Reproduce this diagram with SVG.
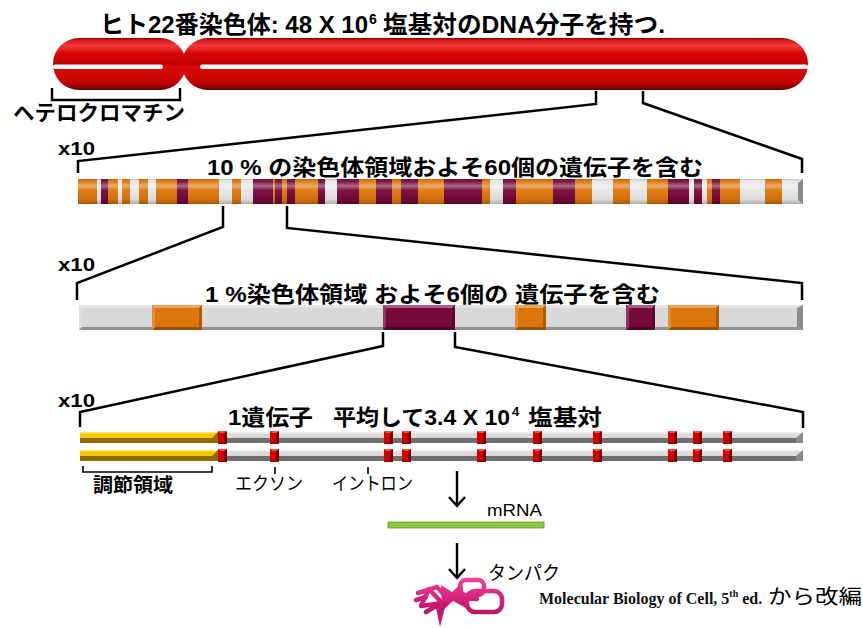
<svg xmlns="http://www.w3.org/2000/svg" xmlns:xlink="http://www.w3.org/1999/xlink" width="863" height="628" viewBox="0 0 863 628">
  <style>
    .jp { font-family: 'Liberation Sans', 'Noto Sans CJK JP', sans-serif; fill: #000; }
    .b { font-weight: bold; }
    .en { font-family: 'Liberation Sans', Arial, sans-serif; font-weight: bold; fill: #000; }
    .serif { font-family: 'Liberation Serif', 'Times New Roman', serif; font-weight: bold; fill: #111; }
    .ln { fill: none; stroke: #000; stroke-width: 2.5; stroke-linejoin: miter; }
    .tick { fill: none; stroke: #000; stroke-width: 1.6; }
    .arr { fill: none; stroke: #000; stroke-width: 2.4; }
    .or { fill: #DC760B; }
    .ma { fill: #760A3A; }
    .wh { fill: #E6E6E6; }
    .bt { fill: #fff; opacity: .35; }
    .bl { fill: #fff; opacity: .18; }
    .bb { fill: #000; opacity: .32; }
    .br { fill: #000; opacity: .22; }
    .prot { fill: none; stroke: url(#protG); stroke-width: 4.5; stroke-linejoin: round; stroke-linecap: round; }
  </style>
  <defs>
    <linearGradient id="redG" x1="0" y1="0" x2="0" y2="1">
      <stop offset="0" stop-color="#8a0000"/>
      <stop offset="0.05" stop-color="#d81818"/>
      <stop offset="0.15" stop-color="#ef3c3c"/>
      <stop offset="0.3" stop-color="#d60202"/>
      <stop offset="0.5" stop-color="#c20000"/>
      <stop offset="0.56" stop-color="#dc0c0c"/>
      <stop offset="0.85" stop-color="#c30000"/>
      <stop offset="0.95" stop-color="#880000"/>
      <stop offset="1" stop-color="#5a0000"/>
    </linearGradient>
    <linearGradient id="gloss" x1="0" y1="0" x2="0" y2="1">
      <stop offset="0" stop-color="#000" stop-opacity=".18"/>
      <stop offset="0.1" stop-color="#fff" stop-opacity=".05"/>
      <stop offset="0.28" stop-color="#fff" stop-opacity=".4"/>
      <stop offset="0.45" stop-color="#fff" stop-opacity=".05"/>
      <stop offset="0.8" stop-color="#000" stop-opacity=".04"/>
      <stop offset="1" stop-color="#000" stop-opacity=".25"/>
    </linearGradient>
    <linearGradient id="protG" gradientUnits="userSpaceOnUse" x1="0" y1="578" x2="0" y2="627">
      <stop offset="0" stop-color="#EE4398"/>
      <stop offset="0.5" stop-color="#D01C74"/>
      <stop offset="1" stop-color="#9E0E52"/>
    </linearGradient>
    <g id="exon">
      <rect x="0" y="0" width="9" height="13" fill="#D40000"/>
      <polygon points="6,2 9,0 9,13 6,11" fill="#7d0000"/>
      <polygon points="0,0 9,0 6,2 2,2" fill="#ff4a4a"/>
      <polygon points="0,13 9,13 6,11 2,11" fill="#9a0000"/>
    </g>
    <g id="strand">
      <!-- regulatory (yellow) part -->
      <rect x="80" y="0" width="138" height="6" fill="#F6C800"/>
      <rect x="80" y="0" width="138" height="1.5" fill="#FFE36A"/>
      <polygon points="80,6 212,6 218,0 218,11 80,11" fill="#8C6C00"/>
      <!-- coding region -->
      <rect x="218" y="0" width="585" height="6" fill="#D9D9D9"/>
      <rect x="218" y="0" width="585" height="1.5" fill="#EFEFEF"/>
      <rect x="218" y="6" width="585" height="5" fill="#6E6E6E"/>
      <polygon points="796,6 803,0 803,11 796,11" fill="#8A8A8A"/>
    </g>
  </defs>

  <!-- chromosome 22 -->
  <g id="chromosome">
    <rect x="53" y="38" width="133" height="52" rx="26" fill="url(#redG)"/>
    <rect x="182" y="38" width="626" height="52" rx="26" fill="url(#redG)"/>
    <rect x="53" y="64.5" width="110" height="4.5" rx="2.2" fill="#fff"/>
    <rect x="200" y="64.5" width="608" height="4.5" rx="2.2" fill="#fff"/>
  </g>

  <g id="title">
    <text class="jp b" x="100" y="33" font-size="24" textLength="268" lengthAdjust="spacingAndGlyphs">ヒト22番染色体: 48 X 10</text>
    <text class="jp b" x="369" y="24" font-size="14">6</text>
    <text class="jp b" x="383" y="33" font-size="24" textLength="282" lengthAdjust="spacingAndGlyphs">塩基対のDNA分子を持つ.</text>
  </g>

  <g id="heterochromatin">
    <path class="ln" d="M52,88 V100 H180 V88"/>
    <text class="jp b" x="13" y="120" font-size="21" textLength="172" lengthAdjust="spacingAndGlyphs">ヘテロクロマチン</text>
  </g>

  <!-- 10 % region -->
  <g id="band10">
    <rect class="or" x="78" y="179" width="19" height="25"/>
    <rect class="wh" x="97" y="179" width="4" height="25"/>
    <rect class="ma" x="101" y="179" width="7" height="25"/>
    <rect class="or" x="108" y="179" width="10" height="25"/>
    <rect class="wh" x="118" y="179" width="4" height="25"/>
    <rect class="or" x="122" y="179" width="8" height="25"/>
    <rect class="wh" x="130" y="179" width="9" height="25"/>
    <rect class="or" x="139" y="179" width="9" height="25"/>
    <rect class="wh" x="148" y="179" width="8" height="25"/>
    <rect class="or" x="156" y="179" width="21" height="25"/>
    <rect class="ma" x="177" y="179" width="11" height="25"/>
    <rect class="or" x="188" y="179" width="31" height="25"/>
    <rect class="wh" x="219" y="179" width="13" height="25"/>
    <rect class="or" x="232" y="179" width="9" height="25"/>
    <rect class="wh" x="241" y="179" width="12" height="25"/>
    <rect class="ma" x="253" y="179" width="20" height="25"/>
    <rect class="or" x="273" y="179" width="2" height="25"/>
    <rect class="ma" x="275" y="179" width="7" height="25"/>
    <rect class="or" x="282" y="179" width="5" height="25"/>
    <rect class="ma" x="287" y="179" width="8" height="25"/>
    <rect class="or" x="295" y="179" width="23" height="25"/>
    <rect class="ma" x="318" y="179" width="7" height="25"/>
    <rect class="wh" x="325" y="179" width="12" height="25"/>
    <rect class="ma" x="337" y="179" width="22" height="25"/>
    <rect class="or" x="359" y="179" width="17" height="25"/>
    <rect class="ma" x="376" y="179" width="16" height="25"/>
    <rect class="or" x="392" y="179" width="9" height="25"/>
    <rect class="ma" x="401" y="179" width="17" height="25"/>
    <rect class="or" x="418" y="179" width="26" height="25"/>
    <rect class="ma" x="444" y="179" width="38" height="25"/>
    <rect class="or" x="482" y="179" width="8" height="25"/>
    <rect class="wh" x="490" y="179" width="13" height="25"/>
    <rect class="ma" x="503" y="179" width="13" height="25"/>
    <rect class="or" x="516" y="179" width="37" height="25"/>
    <rect class="ma" x="553" y="179" width="22" height="25"/>
    <rect class="or" x="575" y="179" width="17" height="25"/>
    <rect class="wh" x="592" y="179" width="21" height="25"/>
    <rect class="or" x="613" y="179" width="17" height="25"/>
    <rect class="wh" x="630" y="179" width="17" height="25"/>
    <rect class="or" x="647" y="179" width="21" height="25"/>
    <rect class="ma" x="668" y="179" width="21" height="25"/>
    <rect class="wh" x="689" y="179" width="5" height="25"/>
    <rect class="ma" x="694" y="179" width="8" height="25"/>
    <rect class="wh" x="702" y="179" width="5" height="25"/>
    <rect class="or" x="707" y="179" width="5" height="25"/>
    <rect class="ma" x="712" y="179" width="8" height="25"/>
    <rect class="or" x="720" y="179" width="20" height="25"/>
    <rect class="wh" x="740" y="179" width="25" height="25"/>
    <rect class="or" x="765" y="179" width="17" height="25"/>
    <rect class="wh" x="782" y="179" width="21" height="25"/>
    <rect x="78" y="179" width="725" height="25" fill="url(#gloss)"/>
    <polygon points="803,179 798,183 798,200 803,204" fill="#8a8a8a"/>
  </g>
  <text class="en" x="58" y="155" font-size="18" textLength="37" lengthAdjust="spacingAndGlyphs">x10</text>
  <text class="jp b" x="207" y="175" font-size="22" textLength="496" lengthAdjust="spacingAndGlyphs">10 % の染色体領域およそ60個の遺伝子を含む</text>

  <!-- 1 % region -->
  <g id="band1">
    <rect x="79" y="305" width="724" height="25" fill="#D8D8D8"/>
    <polygon class="bt" points="79,305 803,305 797,308 82,308"/>
    <polygon class="bb" points="79,330 803,330 797,327 82,327"/>
    <polygon class="bl" points="79,305 82,308 82,327 79,330"/>
    <polygon fill="#8c8c8c" points="803,305 797,308 797,327 803,330"/>

    <rect class="or" x="152" y="305" width="50" height="25"/>
    <polygon class="bt" points="152,305 202,305 199,308 155,308"/>
    <polygon class="bb" points="152,330 202,330 199,327 155,327"/>
    <polygon class="bl" points="152,305 155,308 155,327 152,330"/>
    <polygon class="br" points="202,305 199,308 199,327 202,330"/>

    <rect class="ma" x="383" y="305" width="72" height="25"/>
    <polygon class="bt" points="383,305 455,305 452,308 386,308"/>
    <polygon class="bb" points="383,330 455,330 452,327 386,327"/>
    <polygon class="bl" points="383,305 386,308 386,327 383,330"/>
    <polygon class="br" points="455,305 452,308 452,327 455,330"/>

    <rect class="or" x="515" y="305" width="31" height="25"/>
    <polygon class="bt" points="515,305 546,305 543,308 518,308"/>
    <polygon class="bb" points="515,330 546,330 543,327 518,327"/>
    <polygon class="bl" points="515,305 518,308 518,327 515,330"/>
    <polygon class="br" points="546,305 543,308 543,327 546,330"/>

    <rect class="ma" x="626" y="305" width="29" height="25"/>
    <polygon class="bt" points="626,305 655,305 652,308 629,308"/>
    <polygon class="bb" points="626,330 655,330 652,327 629,327"/>
    <polygon class="bl" points="626,305 629,308 629,327 626,330"/>
    <polygon class="br" points="655,305 652,308 652,327 655,330"/>

    <rect class="or" x="668" y="305" width="51" height="25"/>
    <polygon class="bt" points="668,305 719,305 716,308 671,308"/>
    <polygon class="bb" points="668,330 719,330 716,327 671,327"/>
    <polygon class="bl" points="668,305 671,308 671,327 668,330"/>
    <polygon class="br" points="719,305 716,308 716,327 719,330"/>
  </g>
  <text class="en" x="58" y="271" font-size="18" textLength="37" lengthAdjust="spacingAndGlyphs">x10</text>
  <text class="jp b" x="205" y="302" font-size="22" textLength="455" lengthAdjust="spacingAndGlyphs">1 %染色体領域 およそ6個の 遺伝子を含む</text>

  <!-- single gene -->
  <g id="gene">
    <use xlink:href="#strand" x="0" y="432"/>
    <use xlink:href="#strand" x="0" y="450"/>
    <use xlink:href="#exon" x="218" y="431"/>
    <use xlink:href="#exon" x="270" y="431"/>
    <use xlink:href="#exon" x="384" y="431"/>
    <use xlink:href="#exon" x="402" y="431"/>
    <use xlink:href="#exon" x="477" y="431"/>
    <use xlink:href="#exon" x="533" y="431"/>
    <use xlink:href="#exon" x="593" y="431"/>
    <use xlink:href="#exon" x="668" y="431"/>
    <use xlink:href="#exon" x="693" y="431"/>
    <use xlink:href="#exon" x="723" y="431"/>
    <use xlink:href="#exon" x="218" y="449"/>
    <use xlink:href="#exon" x="270" y="449"/>
    <use xlink:href="#exon" x="384" y="449"/>
    <use xlink:href="#exon" x="402" y="449"/>
    <use xlink:href="#exon" x="477" y="449"/>
    <use xlink:href="#exon" x="533" y="449"/>
    <use xlink:href="#exon" x="593" y="449"/>
    <use xlink:href="#exon" x="668" y="449"/>
    <use xlink:href="#exon" x="693" y="449"/>
    <use xlink:href="#exon" x="723" y="449"/>
  </g>
  <text class="en" x="58" y="407" font-size="18" textLength="37" lengthAdjust="spacingAndGlyphs">x10</text>
  <g id="gene-title">
    <text class="jp b" x="228" y="425" font-size="22" textLength="85" lengthAdjust="spacingAndGlyphs">1遺伝子</text>
    <text class="jp b" x="333" y="425" font-size="22" textLength="177" lengthAdjust="spacingAndGlyphs">平均して3.4 X 10</text>
    <text class="jp b" x="512" y="416" font-size="13">4</text>
    <text class="jp b" x="528" y="425" font-size="22" textLength="74" lengthAdjust="spacingAndGlyphs">塩基対</text>
  </g>

  <g id="regulatory">
    <path class="tick" d="M83,466 V472 H212 V466"/>
    <text class="jp b" x="93" y="492" font-size="19" textLength="80" lengthAdjust="spacingAndGlyphs">調節領域</text>
  </g>
  <g id="exon-label">
    <path class="tick" d="M275,467 V474"/>
    <text class="jp" x="235" y="490" font-size="18" textLength="68" lengthAdjust="spacingAndGlyphs">エクソン</text>
  </g>
  <g id="intron-label">
    <path class="tick" d="M368,467 V474"/>
    <text class="jp" x="332" y="490" font-size="18" textLength="81" lengthAdjust="spacingAndGlyphs">イントロン</text>
  </g>

  <!-- mRNA -->
  <g id="mrna">
    <rect x="388" y="522" width="156" height="6" fill="#8DC63F" stroke="#5E9A2A" stroke-width="0.8"/>
    <text class="jp" x="487" y="516" font-size="16" textLength="55" lengthAdjust="spacingAndGlyphs">mRNA</text>
  </g>

  <!-- protein -->
  <g id="protein">
    <path d="M441,585 L452,592 L462,583 L466,608 L453,601 L442,611 Z" fill="url(#protG)"/>
    <path class="prot" d="M418,593 L437,587 L446,597"/>
    <path class="prot" d="M421,606 L429,589 L442,603 Z"/>
    <path class="prot" d="M416,600 L426,597"/>
    <path class="prot" d="M426,612 L436,606"/>
    <path d="M435,603 L440,627 L446,603 Z" fill="#C0186A"/>
    <rect class="prot" x="460" y="580" width="24" height="15" rx="6"/>
    <rect class="prot" x="467" y="591" width="35" height="21" rx="8" stroke-width="5"/>
    <path class="prot" d="M459,598 L477,599"/>
    <text class="jp" x="488" y="580" font-size="19" textLength="72" lengthAdjust="spacingAndGlyphs">タンパク</text>
  </g>

  <g id="credit">
    <text class="serif" x="539" y="604" font-size="16">Molecular Biology of Cell, 5<tspan font-size="10" dy="-7">th</tspan><tspan dy="7"> ed.</tspan></text>
    <text class="jp" x="768" y="604" font-size="20" textLength="94" lengthAdjust="spacingAndGlyphs">から改編</text>
  </g>

  <!-- connectors -->
  <g id="connectors">
    <path class="ln" d="M596,91 V104 L78,161 V173"/>
    <path class="ln" d="M643,91 V103 L802,159 V173"/>
    <path class="ln" d="M223,206 V227 L77,283 V300"/>
    <path class="ln" d="M287,206 V228 L802,283 V300"/>
    <path class="ln" d="M383,332 V346 L80,412 V427"/>
    <path class="ln" d="M455,332 V347 L803,412 V428"/>
    <path class="arr" d="M457,471 V506 M449,497 L457,506 L465,497"/>
    <path class="arr" d="M457,543 V578 M449,569 L457,578 L465,569"/>
  </g>
</svg>
